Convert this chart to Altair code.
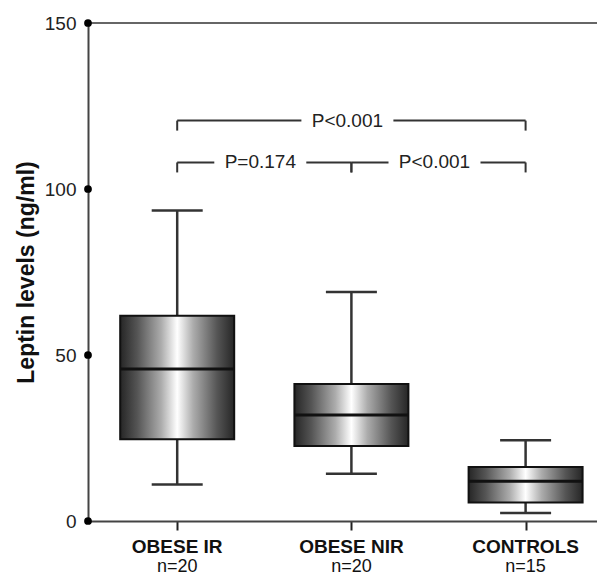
import altair as alt
import pandas as pd

# ---------------- data ----------------
groups = ["OBESE IR", "OBESE NIR", "CONTROLS"]
sizes = ["n=20", "n=20", "n=15"]
whisker_low = [11.0, 14.2, 2.4]
q1 = [24.6, 22.6, 5.6]
median = [45.8, 31.9, 12.0]
q3 = [61.8, 41.3, 16.3]
whisker_high = [93.5, 69.0, 24.3]

y_ticks = [0, 50, 100, 150]

comp_from = ["OBESE IR", "OBESE IR", "OBESE NIR"]
comp_to = ["CONTROLS", "OBESE NIR", "CONTROLS"]
comp_label = ["P<0.001", "P=0.174", "P<0.001"]
comp_level = [120.6, 108.0, 108.0]

# ---------------- geometry / style ----------------
W, H = 509, 498
STEP = 174.2          # px between category centres
FIRST = 89.2          # px from axis to first centre
BOX_HALF = 57 / STEP
CAP_HALF = 25.5 / STEP
GAP_HALF = 46 / STEP
TEXT_SHIFT = -4 / STEP
DROP = 10 / (H / 150)
FONT = "Liberation Sans"

xscale = alt.Scale(domain=[-FIRST / STEP, (W - FIRST) / STEP], nice=False, zero=False)
yscale = alt.Scale(domain=[0, 150], nice=False)

x_axis = alt.Axis(
    values=[0, 1, 2], labels=False, title=None, grid=False,
    tickSize=9, tickWidth=2, tickColor="#222222",
    domainWidth=2, domainColor="#444444")
y_axis = alt.Axis(
    values=y_ticks, ticks=False, grid=False, labelPadding=12,
    labelFont=FONT, labelFontSize=19, labelColor="#222222",
    domainWidth=2, domainColor="#444444",
    title="Leptin levels (ng/ml)", titleFont=FONT, titleFontSize=23,
    titleFontWeight="bold", titleColor="#111111",
    titleX=-62, titleY=H / 2, titleBaseline="middle", titleAngle=270)

pos = {g: i for i, g in enumerate(groups)}
box = pd.DataFrame({
    "group": groups, "pos": range(len(groups)), "n": sizes,
    "lo": whisker_low, "q1": q1, "med": median, "q3": q3, "hi": whisker_high,
})
box["bl"] = box["pos"] - BOX_HALF
box["br"] = box["pos"] + BOX_HALF
box["cl"] = box["pos"] - CAP_HALF
box["cr"] = box["pos"] + CAP_HALF

# bracket pieces
hseg, vseg, lab = [], [], []
for a, b, t, lv in zip(comp_from, comp_to, comp_label, comp_level):
    i, j = pos[a], pos[b]
    m = (i + j) / 2 + TEXT_SHIFT
    hseg.append({"x": i, "x2": m - GAP_HALF, "y": lv})
    hseg.append({"x": m + GAP_HALF, "x2": j, "y": lv})
    vseg.append({"x": i, "y": lv, "y2": lv - DROP})
    vseg.append({"x": j, "y": lv, "y2": lv - DROP})
    lab.append({"x": m, "y": lv, "t": t})
hseg = pd.DataFrame(hseg)
vseg = pd.DataFrame(vseg)
lab = pd.DataFrame(lab)

X = lambda f: alt.X(f, type="quantitative", scale=xscale, axis=x_axis)
Y = lambda f: alt.Y(f, type="quantitative", scale=yscale, axis=y_axis)

base = alt.Chart(box)

dots = alt.Chart(pd.DataFrame({"v": y_ticks})).mark_circle(
    size=60, color="#000000", opacity=1
).encode(x=alt.value(0), y=Y("v"))

top_line = alt.Chart(pd.DataFrame({"v": [y_ticks[-1]]})).mark_rule(
    color="#666666", strokeWidth=2
).encode(y=Y("v"), x=alt.value(0), x2=alt.value(W))

whisk_hi = base.mark_rule(color="#333333", strokeWidth=2.5).encode(
    x=X("pos"), y=Y("q3"), y2="hi")
whisk_lo = base.mark_rule(color="#333333", strokeWidth=2.5).encode(
    x=X("pos"), y=Y("lo"), y2="q1")
cap_hi = base.mark_rule(color="#333333", strokeWidth=2.5).encode(
    x=X("cl"), x2="cr", y=Y("hi"))
cap_lo = base.mark_rule(color="#333333", strokeWidth=2.5).encode(
    x=X("cl"), x2="cr", y=Y("lo"))

grad = alt.LinearGradient(
    gradient="linear", x1=0, x2=1, y1=0, y2=0,
    stops=[
        alt.GradientStop(color="#262626", offset=0),
        alt.GradientStop(color="#555555", offset=0.15),
        alt.GradientStop(color="#acacac", offset=0.36),
        alt.GradientStop(color="#ffffff", offset=0.5),
        alt.GradientStop(color="#acacac", offset=0.64),
        alt.GradientStop(color="#555555", offset=0.85),
        alt.GradientStop(color="#262626", offset=1),
    ],
)
boxes = base.mark_bar(fill=grad, stroke="#111111", strokeWidth=2, opacity=1).encode(
    x=X("bl"), x2="br", y=Y("q1"), y2="q3")
med = base.mark_rule(color="#111111", strokeWidth=3).encode(
    x=X("bl"), x2="br", y=Y("med"))

br_h = alt.Chart(hseg).mark_rule(color="#333333", strokeWidth=2).encode(
    x=X("x"), x2="x2", y=Y("y"))
br_v = alt.Chart(vseg).mark_rule(color="#333333", strokeWidth=2).encode(
    x=X("x"), y=Y("y"), y2="y2")
br_t = alt.Chart(lab).mark_text(font=FONT, fontSize=19, color="#222222",
                                baseline="middle", align="center").encode(
    x=X("x"), y=Y("y"), text="t:N")

glabel = base.mark_text(font=FONT, fontSize=19, fontWeight="bold", color="#111111",
                        baseline="middle", align="center").encode(
    x=X("pos"), y=alt.value(H + 26), text="group:N")
nlabel = base.mark_text(font=FONT, fontSize=18, color="#111111",
                        baseline="middle", align="center").encode(
    x=X("pos"), y=alt.value(H + 46), text="n:N")

chart = alt.layer(
    top_line, whisk_hi, whisk_lo, cap_hi, cap_lo, boxes, med,
    br_h, br_v, br_t, glabel, nlabel, dots,
).properties(
    width=W, height=H,
    autosize=alt.AutoSizeParams(type="none"),
    padding={"left": 80, "top": 15, "right": 0, "bottom": 56},
).configure_view(stroke=None).configure(background="white")

chart.save("out.html", embed_options={"renderer": "svg", "actions": False})
